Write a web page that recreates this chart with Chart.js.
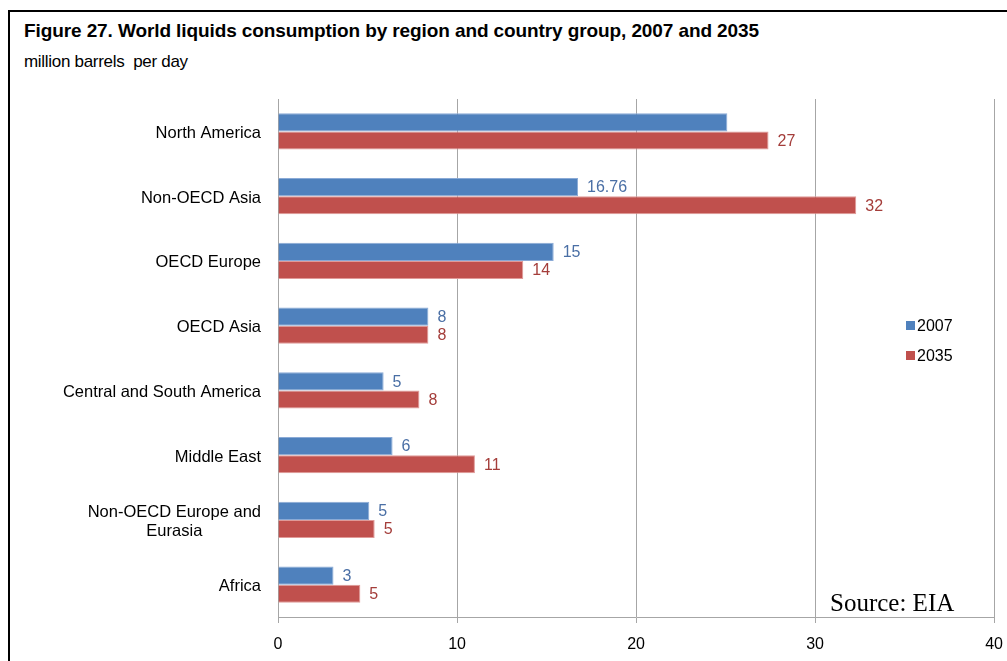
<!DOCTYPE html>
<html>
<head>
<meta charset="utf-8">
<script src="https://cdn.jsdelivr.net/npm/chart.js@4.4.1/dist/chart.umd.min.js"></script>
<style>
  body { margin: 0; background: #fff; font-family: "Liberation Sans", Arial, sans-serif; }
  #wrap { position: relative; width: 1007px; height: 661px; overflow: hidden; }
  #frame { position: absolute; left: 8px; top: 10px; width: 1100px; height: 800px; border-top: 2px solid #000; border-left: 2px solid #000; }
  #title { position: absolute; left: 24px; top: 20px; font-size: 19px; font-weight: bold; letter-spacing: -0.1px; color: #000; }
  #subtitle { position: absolute; left: 24px; top: 52px; font-size: 17px; color: #000; letter-spacing: -0.3px; }
  canvas { position: absolute; left: 0; top: 0; }
</style>
</head>
<body>
<div id="wrap">
  <div id="frame"></div>
  <div id="title">Figure 27. World liquids consumption by region and country group, 2007 and 2035</div>
  <div id="subtitle">million barrels&nbsp; per day</div>
  <canvas id="chart" width="1015" height="661" style="width:1015px;height:661px"></canvas>
</div>
<script>
// Dados
const categories = [
  'North America',
  'Non-OECD Asia',
  'OECD Europe',
  'OECD Asia',
  'Central and South America',
  'Middle East',
  ['Non-OECD Europe and', 'Eurasia'],
  'Africa'
];
const values2007 = [25.1, 16.76, 15.4, 8.4, 5.9, 6.4, 5.1, 3.1];
const values2035 = [27.4, 32.3, 13.7, 8.4, 7.9, 11.0, 5.4, 4.6];
const labels2007 = ['', '16.76', '15', '8', '5', '6', '5', '3'];
const labels2035 = ['27', '32', '14', '8', '8', '11', '5', '5'];
const xTicks = [0, 10, 20, 30, 40];

const FONT = '"Liberation Sans", Arial, sans-serif';

// Rótulos do eixo Y desenhados à mão (bloco multi-linha centralizado)
const yLabelsPlugin = {
  id: 'yLabels',
  afterDraw(chart) {
    const ctx = chart.ctx;
    const yScale = chart.scales.y;
    ctx.save();
    ctx.font = '16.5px ' + FONT;
    ctx.fillStyle = '#000';
    ctx.textBaseline = 'middle';
    categories.forEach((cat, i) => {
      const y = yScale.getPixelForValue(i) + 2;
      const right = chart.chartArea.left - 17;
      if (Array.isArray(cat)) {
        const maxW = Math.max(...cat.map(l => ctx.measureText(l).width));
        ctx.textAlign = 'center';
        const lh = 19;
        cat.forEach((line, j) => {
          ctx.fillText(line, right - maxW / 2, y + (j - (cat.length - 1) / 2) * lh);
        });
      } else {
        ctx.textAlign = 'right';
        ctx.fillText(cat, right, y);
      }
    });
    ctx.restore();
  }
};

// Rótulos de valores ao lado das barras
const valueLabelsPlugin = {
  id: 'valueLabels',
  afterDatasetsDraw(chart) {
    const ctx = chart.ctx;
    ctx.save();
    ctx.font = '16px ' + FONT;
    ctx.textAlign = 'left';
    ctx.textBaseline = 'middle';
    chart.data.datasets.forEach((ds, di) => {
      const meta = chart.getDatasetMeta(di);
      ctx.fillStyle = ds.labelColor;
      meta.data.forEach((bar, i) => {
        const txt = ds.valueLabels[i];
        if (txt) ctx.fillText(txt, bar.x + 9, bar.y + 1);
      });
    });
    ctx.restore();
  }
};

// Legenda personalizada
const legendPlugin = {
  id: 'customLegend',
  afterDraw(chart) {
    const ctx = chart.ctx;
    ctx.save();
    ctx.font = '16px ' + FONT;
    ctx.textAlign = 'left';
    ctx.textBaseline = 'middle';
    chart.data.datasets.forEach((ds, i) => {
      const y = 326 + i * 30;
      ctx.fillStyle = ds.backgroundColor;
      ctx.fillRect(906, y - 5, 9, 9);
      ctx.fillStyle = '#000';
      ctx.fillText(ds.label, 917, y + 1);
    });
    // Fonte
    ctx.font = '25px "Liberation Serif", "DejaVu Serif", serif';
    ctx.textBaseline = 'alphabetic';
    ctx.fillStyle = '#000';
    ctx.fillText('Source: EIA', 830, 611);
    ctx.restore();
  }
};

new Chart(document.getElementById('chart'), {
  type: 'bar',
  data: {
    labels: categories,
    datasets: [
      {
        label: '2007',
        data: values2007,
        valueLabels: labels2007,
        labelColor: '#4a6fa5',
        backgroundColor: '#4f81bd',
        borderColor: '#8aaad6',
        borderWidth: 1,
        categoryPercentage: 0.56,
        barPercentage: 1.0
      },
      {
        label: '2035',
        data: values2035,
        valueLabels: labels2035,
        labelColor: '#a43d3a',
        backgroundColor: '#c0504d',
        borderColor: '#e09a98',
        borderWidth: 1,
        categoryPercentage: 0.56,
        barPercentage: 1.0
      }
    ]
  },
  options: {
    indexAxis: 'y',
    responsive: false,
    animation: false,
    layout: { padding: { left: 270, top: 99, right: 4, bottom: 0 } },
    plugins: { legend: { display: false }, tooltip: { enabled: false } },
    scales: {
      x: {
        min: 0,
        max: 40,
        afterBuildTicks(scale) { scale.ticks = xTicks.map(v => ({ value: v })); },
        afterFit(scale) { scale.height = 44; },
        grid: { color: '#a6a6a6', lineWidth: 1, tickLength: 6, drawTicks: true },
        border: { color: '#a6a6a6' },
        ticks: { color: '#000', font: { family: FONT, size: 16 }, padding: 12 }
      },
      y: {
        grid: { display: false },
        border: { color: '#a6a6a6' },
        ticks: { display: false }
      }
    }
  },
  plugins: [yLabelsPlugin, valueLabelsPlugin, legendPlugin]
});
</script>
</body>
</html>
